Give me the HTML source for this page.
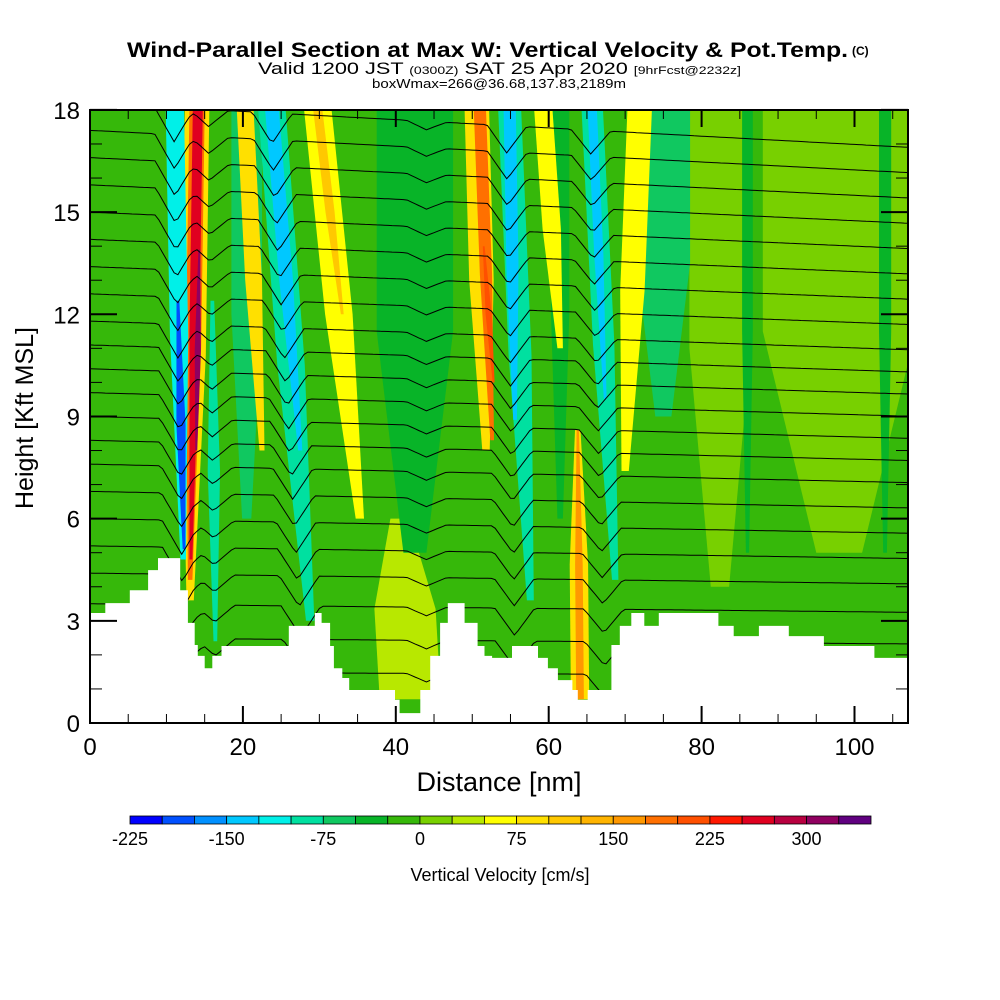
<!DOCTYPE html>
<html><head><meta charset="utf-8"><style>
html,body{margin:0;padding:0;background:#fff;}
svg{display:block;font-family:"Liberation Sans Narrow","Liberation Sans",sans-serif;}
</style></head><body>
<svg id="chart" width="1000" height="1000" viewBox="0 0 1000 1000" xmlns="http://www.w3.org/2000/svg">
<defs><clipPath id="plotclip"><rect x="90" y="110" width="818" height="613"/></clipPath></defs>
<g>
<text x="127" y="57" font-size="21" font-weight="bold" textLength="721" lengthAdjust="spacingAndGlyphs">Wind-Parallel Section at Max W: Vertical Velocity &amp; Pot.Temp.</text>
<text x="852" y="55" font-size="12" font-weight="bold">(C)</text>
<text x="258" y="74" font-size="17" textLength="483" lengthAdjust="spacingAndGlyphs">Valid 1200 JST <tspan font-size="11">(0300Z)</tspan> SAT 25 Apr 2020 <tspan font-size="11">[9hrFcst@2232z]</tspan></text>
<text x="372" y="88" font-size="13" textLength="254" lengthAdjust="spacingAndGlyphs">boxWmax=266@36.68,137.83,2189m</text>
</g>
<g id="plot" clip-path="url(#plotclip)">
<rect x="90" y="110" width="818" height="613" fill="#36b80a"/>
<g id="fills"></g>
<g id="contours"></g>
<path id="terrain" fill="#fff"/>
</g>
<rect x="90" y="110" width="818" height="613" fill="none" stroke="#000" stroke-width="2"/>
<g id="axes"></g>
<text x="499" y="791" font-size="27" text-anchor="middle" font-family="Liberation Sans, sans-serif">Distance [nm]</text>
<text x="0" y="0" font-size="25" text-anchor="middle" font-family="Liberation Sans, sans-serif" transform="translate(33,418) rotate(-90)">Height [Kft MSL]</text>
<g id="colorbar"></g>
<text x="500" y="881" font-size="18" text-anchor="middle" font-family="Liberation Sans, sans-serif">Vertical Velocity [cm/s]</text>
</svg>
<script>
// ---- data ----
const levelColors = ["#0000ff","#0050ff","#0090ff","#00c8ff","#00f0e8","#00e0a0","#10c860","#08b428","#36b80a","#78d000","#b8e800","#ffff00","#ffe000","#ffc800","#ffb400","#ff9800","#ff7000","#ff5000","#ff1800","#e00020","#b80040","#900060","#600080"];
const colorbarLabels = [-225,-150,-75,0,75,150,225,300];
const xTickLabels = [0,20,40,60,80,100];
const yTickLabels = [0,3,6,9,12,15,18];
// velocity features: bottom distance, bottom height, top distance, top height, half width (nm), w (cm/s)
const featXb = [98,41.9,82.4,75,42.5,61.5,20.5,13.1,13.1,13.2,13.9,12.2,12.3,16.4,22.5,28.8,27.5,35.3,33,51.8,52.6,52.8,57.6,55.6,61.5,64.1,64.1,68.7,67.4,70.0,86,104];
const featHb = [5,0.7,4,9,5,6,6,3.6,4.2,4.8,8.0,4.8,5.1,2.4,8.0,3.0,8.0,6.0,12,8.0,8.3,10,3.6,8.9,11,0.7,0.7,4.2,9.5,7.4,5,5];
const featXt = [98,40.5,82.4,75,42.5,61.5,20.5,14.0,14.0,14.1,14.3,11.1,11.5,16.0,20.3,23.8,23.8,29.8,29.8,50.6,51.0,51.5,54.9,54.9,59.3,63.8,63.8,65.7,65.7,71.9,86,104];
const featHt = [18,6,18,18,18,18,18,18,18,18,13.9,18,12.4,12.4,18,18,18,18,18,18,18,14,18,18,18,8.6,8.6,18,18,18,18,18];
const featHw = [10,4,4,3.5,5,1.2,2,1.6,1.0,0.65,0.4,1.2,0.6,0.8,1.1,1.8,0.9,1.8,0.6,1.6,0.8,0.4,1.5,0.8,1.2,1.2,0.5,1.4,0.6,1.6,0.7,0.8];
const featW = [10,30,10,-60,-40,-40,-60,75,175,250,300,-125,-200,-100,75,-100,-150,60,110,75,175,210,-100,-150,70,75,150,-100,-150,70,-40,-40];
// terrain: step breaks (nm) and heights (kft)
const terrX = [0,2.0,5.2,7.6,8.9,11.8,12.8,13.7,14.1,15.0,16.0,17.2,24.4,26.0,29.4,30.3,31.4,31.9,33.0,33.9,36.8,39.9,40.5,43.2,44.5,45.8,46.8,49.0,50.7,51.6,52.6,55.2,56.6,58.6,59.9,61.2,63.1,63.8,65.1,68.2,69.3,70.8,72.5,74.4,82.2,84.2,87.5,91.4,96.0,102.6];
const terrH = [3.23,3.52,3.9,4.49,4.84,3.9,2.94,2.29,1.97,1.61,1.97,2.26,2.26,2.85,3.23,2.94,2.26,1.61,1.32,0.97,0.97,0.68,0.29,0.97,1.97,2.94,3.52,2.94,2.26,1.97,1.91,2.26,2.26,1.91,1.61,1.26,0.97,0.68,0.97,2.29,2.85,3.23,2.85,3.23,2.85,2.55,2.85,2.55,2.26,1.91];
// potential temperature contour base heights (kft)
const thetaBase = [1.5,2.5,3.5,4.4,5.2,6.0,6.8,7.6,8.3,9.0,9.7,10.4,11.1,11.8,12.6,13.4,14.2,15.0,15.8,16.6,17.4,18.2];
// contour dips: distance at bottom/top, amplitude (kft)
const dipXb = [12.5,16.5,28.5,55.8,67.6,44];
const dipXt = [11.0,15.5,23.8,54.5,65.5,44];
const dipAmp = [1.0,0.5,0.9,0.8,0.7,0.25];

const NS="http://www.w3.org/2000/svg";
const X0=90,Y0=723,SX=7.645,SY=34.06;
const px=d=>X0+d*SX, py=h=>Y0-h*SY;
function colorOf(v){let i=Math.floor((v+225)/25);i=Math.max(0,Math.min(levelColors.length-1,i));return levelColors[i];}
function mk(tag,attrs,parent){const e=document.createElementNS(NS,tag);for(const k in attrs)e.setAttribute(k,attrs[k]);parent.appendChild(e);return e;}

// fills
const fills=document.getElementById('fills');
for(let i=0;i<featW.length;i++){
  const bt=featHt[i]<18, bb=featHb[i]>0.8;
  const hwT=bt?featHw[i]*0.3:featHw[i], hwB=bb?featHw[i]*0.3:featHw[i];
  const xm=(featXb[i]+featXt[i])/2, hm=(featHb[i]+featHt[i])/2;
  const pts=[[px(featXb[i]-hwB),py(featHb[i])],[px(xm-featHw[i]),py(hm)],[px(featXt[i]-hwT),py(featHt[i])],[px(featXt[i]+hwT),py(featHt[i])],[px(xm+featHw[i]),py(hm)],[px(featXb[i]+hwB),py(featHb[i])]];
  const p=mk('polygon',{points:pts.map(a=>a.map(v=>v.toFixed(1)).join(',')).join(' '),fill:colorOf(featW[i])},fills);
  
  
}
// contours
const cg=document.getElementById('contours');
thetaBase.forEach((b,k)=>{
  let d='';
  for(let x=0;x<=107;x+=0.5){
    let h=b - 0.012*x*(b/18);
    const f=Math.min(1,Math.max(0,b/18));
    for(let j=0;j<dipAmp.length;j++){
      const c=dipXb[j]+(dipXt[j]-dipXb[j])*f;
      h-=dipAmp[j]*Math.max(0,1-Math.abs(x-c)/2.6);
    }
    d+=(x===0?'M':'L')+px(x).toFixed(1)+','+py(h).toFixed(1);
  }
  const p=mk('path',{d:d,fill:'none',stroke:'#000','stroke-width':1},cg);
  
  
});
// terrain
let td='M'+px(0)+','+py(0);
for(let i=0;i<terrX.length;i++){
  const x1=px(terrX[i]), x2=i+1<terrX.length?px(terrX[i+1]):908;
  td+=' L'+x1.toFixed(1)+','+py(terrH[i]).toFixed(1)+' L'+x2.toFixed(1)+','+py(terrH[i]).toFixed(1);
}
td+=' L908,'+py(0)+' Z';
document.getElementById('terrain').setAttribute('d',td);
// axes
const ax=document.getElementById('axes');
for(let d=0;d<=105;d+=5){
  const major=d%20===0, L=major?17:9, x=px(d);
  const t1=mk('line',{x1:x,y1:723,x2:x,y2:723-L,stroke:'#000','stroke-width':major?2:1},ax);
  
  
  const t2=mk('line',{x1:x,y1:110,x2:x,y2:110+L,stroke:'#000','stroke-width':major?2:1},ax);
  
  
}
xTickLabels.forEach(v=>{
  const t=mk('text',{x:px(v),y:755,'font-size':24,'text-anchor':'middle','font-family':'Liberation Sans, sans-serif'},ax);
  t.textContent=v;
  
  
});
for(let h=0;h<=18;h++){
  const major=h%3===0,L=major?27:12,y=py(h);
  const t1=mk('line',{x1:90,y1:y,x2:90+L,y2:y,stroke:'#000','stroke-width':major?2:1},ax);
  
  
  const t2=mk('line',{x1:908,y1:y,x2:908-L,y2:y,stroke:'#000','stroke-width':major?2:1},ax);
  
  
}
yTickLabels.forEach(v=>{
  const t=mk('text',{x:80,y:py(v)+9,'font-size':24,'text-anchor':'end','font-family':'Liberation Sans, sans-serif'},ax);
  t.textContent=v;
  
  
});
// colorbar
const cb=document.getElementById('colorbar');
const BW=741/levelColors.length;
levelColors.forEach((c,i)=>{
  const r=mk('rect',{x:130+i*BW,y:816,width:BW,height:8,fill:c,stroke:'#000','stroke-width':0.8},cb);
  
  
});
colorbarLabels.forEach(v=>{
  const t=mk('text',{x:130+(v+225)/25*BW,y:845,'font-size':18,'text-anchor':'middle','font-family':'Liberation Sans, sans-serif'},cb);
  t.textContent=v;
  
  
});
</script>
</body></html>
